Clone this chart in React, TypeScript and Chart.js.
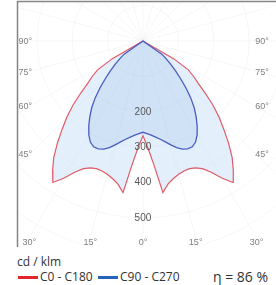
import React, { useEffect, useRef } from 'react';
import { Chart, registerables } from 'chart.js';

Chart.register(...registerables);

// Polar angle gamma (degrees from nadir), one side; the other side is mirrored
const GAMMA = [
  0, 2.5, 5, 7.5, 10, 12.5, 15, 17.5, 20, 22.5, 25, 27.5, 30, 32.5, 35, 37.5, 40, 42.5,
  45, 47.5, 50, 52.5, 55, 57.5, 60, 62.5, 65, 67.5, 70, 72.5, 75, 77.5, 80, 82.5, 85, 87.5, 90,
];

// Luminous intensity, cd / klm
const C0_C180 = [
  268, 300, 350, 432, 410, 398, 390, 385, 384, 388, 398, 418, 448, 474, 445, 414, 376, 338,
  304, 268, 230, 197, 175, 152, 100, 0, 0, 0, 0, 0, 0, 0, 0, 0, 0, 0, 0,
];
const C90_C270 = [
  258, 262, 267, 274, 282, 292, 304, 316, 325, 330, 330, 322, 306, 285, 262, 238, 210, 180,
  150, 125, 102, 82, 65, 0, 0, 0, 0, 0, 0, 0, 0, 0, 0, 0, 0, 0, 0,
];

const SERIES_NAMES = ['C0 - C180', 'C90 - C270'];
const UNIT_LABEL = 'cd / klm';
const ETA_LABEL = 'η = 86 %';

const RING_LABELS = [200, 300, 400, 500];
const GRID_RINGS = [100, 200, 300, 400, 500, 600, 700, 800];
const SIDE_ANGLES = [90, 75, 60, 45];
const BOTTOM_ANGLES = [-30, -15, 0, 15, 30];

const RED = '#e3262e';
const BLUE = '#2563bf';

function toCurve(values: number[]) {
  const pts: { x: number; y: number }[] = [];
  for (let i = GAMMA.length - 1; i >= 0; i--) {
    const g = (GAMMA[i] * Math.PI) / 180;
    pts.push({ x: -values[i] * Math.sin(g), y: -values[i] * Math.cos(g) });
  }
  for (let i = 1; i < GAMMA.length; i++) {
    const g = (GAMMA[i] * Math.PI) / 180;
    pts.push({ x: values[i] * Math.sin(g), y: -values[i] * Math.cos(g) });
  }
  return pts;
}

const polarDecor = {
  id: 'polarDecor',
  beforeDatasetsDraw(chart: any) {
    const { ctx, chartArea: a, scales } = chart;
    const xs = scales.x;
    const ys = scales.y;
    const cx = xs.getPixelForValue(0);
    const cy = ys.getPixelForValue(0);
    ctx.save();
    ctx.beginPath();
    ctx.rect(a.left, a.top, a.right - a.left, a.bottom - a.top);
    ctx.clip();
    ctx.strokeStyle = 'rgba(0,0,0,0.035)';
    ctx.lineWidth = 1;
    for (const v of GRID_RINGS) {
      const r = xs.getPixelForValue(v) - cx;
      ctx.beginPath();
      ctx.arc(cx, cy, r, 0, Math.PI * 2);
      ctx.stroke();
    }
    const far = xs.getPixelForValue(900) - cx;
    for (let d = 0; d < 360; d += 15) {
      const g = (d * Math.PI) / 180;
      ctx.beginPath();
      ctx.moveTo(cx, cy);
      ctx.lineTo(cx + far * Math.sin(g), cy + far * Math.cos(g));
      ctx.stroke();
    }
    ctx.restore();
  },
  afterDatasetsDraw(chart: any) {
    const { ctx, chartArea: a, scales, width } = chart;
    const xs = scales.x;
    const ys = scales.y;
    const cx = xs.getPixelForValue(0);
    ctx.save();
    // frame
    ctx.strokeStyle = '#858585';
    ctx.lineWidth = 1.5;
    ctx.beginPath();
    ctx.moveTo(a.left + 0.5, a.bottom);
    ctx.lineTo(a.left + 0.5, a.top - 0.5);
    ctx.lineTo(width, a.top - 0.5);
    ctx.stroke();

    // ring value labels
    ctx.fillStyle = '#555';
    ctx.font = '10px "Liberation Sans", Arial, sans-serif';
    ctx.textAlign = 'center';
    ctx.textBaseline = 'middle';
    for (const v of RING_LABELS) {
      ctx.fillText(String(v), cx, ys.getPixelForValue(-v));
    }

    // angle labels at the frame
    ctx.fillStyle = '#808080';
    ctx.font = '9px "Liberation Sans", Arial, sans-serif';
    const sideReach = 318;
    const rightEdge = xs.getPixelForValue(356);
    for (const g of SIDE_ANGLES) {
      const r = (g * Math.PI) / 180;
      const yy = ys.getPixelForValue((-sideReach * Math.cos(r)) / Math.sin(r)) + 1;
      ctx.textAlign = 'left';
      ctx.fillText(g + '°', a.left + 1.5, yy);
      ctx.textAlign = 'right';
      ctx.fillText(g + '°', rightEdge, yy);
    }
    const bottomReach = 556;
    for (const g of BOTTOM_ANGLES) {
      const r = (g * Math.PI) / 180;
      let xx = xs.getPixelForValue(bottomReach * Math.tan(r));
      const label = Math.abs(g) + '°';
      const w = ctx.measureText(label).width;
      ctx.textAlign = 'center';
      if (xx - w / 2 < a.left + 1.5) xx = a.left + 1.5 + w / 2;
      ctx.fillText(label, xx, a.bottom - 4);
    }
    ctx.restore();
  },
};

export default function App() {
  const ref = useRef<HTMLCanvasElement>(null);

  useEffect(() => {
    if (!ref.current) return;
    const chart = new Chart(ref.current, {
      type: 'scatter',
      data: {
        datasets: [
          {
            label: SERIES_NAMES[0],
            data: toCurve(C0_C180),
            showLine: true,
            borderColor: '#e05a68',
            borderWidth: 1.2,
            backgroundColor: 'rgba(170,205,240,0.33)',
            fill: 'shape',
            pointRadius: 0,
            tension: 0,
            order: 2,
          },
          {
            label: SERIES_NAMES[1],
            data: toCurve(C90_C270),
            showLine: true,
            borderColor: '#4a5cc0',
            borderWidth: 1.3,
            backgroundColor: 'rgba(120,170,230,0.18)',
            fill: 'shape',
            pointRadius: 0,
            tension: 0,
            order: 1,
          },
        ],
      },
      options: {
        animation: false,
        responsive: false,
        events: [],
        layout: { padding: { left: 17, top: 2, right: 0, bottom: 3 } },
        plugins: {
          legend: { display: false },
          tooltip: { enabled: false },
        },
        scales: {
          x: { type: 'linear', min: -356, max: 376, display: false },
          y: { type: 'linear', min: -582, max: 110, display: false },
        },
      },
      plugins: [polarDecor],
    });
    return () => chart.destroy();
  }, []);

  const txt: React.CSSProperties = {
    position: 'absolute',
    fontSize: 12,
    lineHeight: '16px',
    whiteSpace: 'nowrap',
  };

  return (
    <div
      style={{
        position: 'fixed',
        left: 0,
        top: 0,
        width: 276,
        height: 285,
        background: '#fff',
        overflow: 'hidden',
        fontFamily: '"Open Sans", "Noto Sans", sans-serif',
        color: '#333',
      }}
    >
      <canvas
        ref={ref}
        width={276}
        height={250}
        style={{ position: 'absolute', left: 0, top: 0, width: 276, height: 250 }}
      />
      <div style={{ ...txt, left: 17, top: 254 }}>{UNIT_LABEL}</div>
      <div style={{ position: 'absolute', left: 18, top: 276, width: 20, height: 3, background: RED }} />
      <div style={{ ...txt, left: 40, top: 269 }}>{SERIES_NAMES[0]}</div>
      <div style={{ position: 'absolute', left: 98, top: 276, width: 20, height: 3, background: BLUE }} />
      <div style={{ ...txt, left: 120, top: 269 }}>{SERIES_NAMES[1]}</div>
      <div style={{ ...txt, left: 213, top: 268, fontSize: 14, lineHeight: '18px' }}>{ETA_LABEL}</div>
    </div>
  );
}
